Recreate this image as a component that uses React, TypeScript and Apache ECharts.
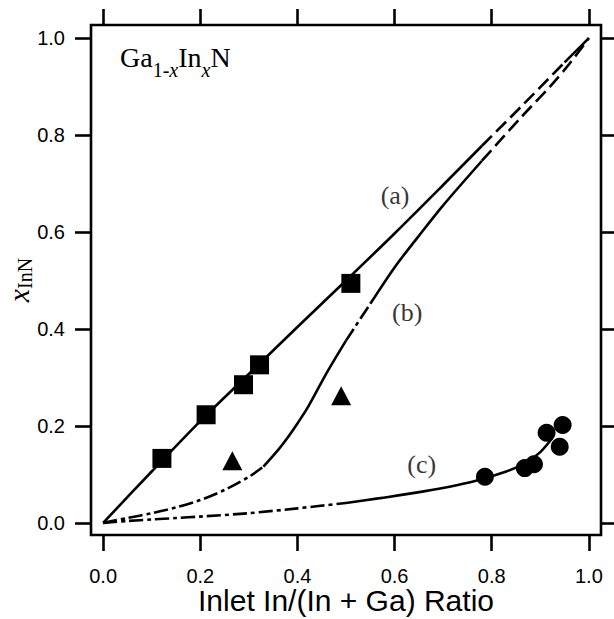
import React, { useEffect, useRef } from 'react';
import * as echarts from 'echarts';

// ---- data ----
const xTicks = [0, 0.2, 0.4, 0.6, 0.8, 1.0];
const yTicks = [0, 0.2, 0.4, 0.6, 0.8, 1.0];

const squaresA = [[0.121, 0.133], [0.212, 0.223], [0.289, 0.285], [0.322, 0.326], [0.51, 0.494]];
const trianglesB = [[0.266, 0.128], [0.49, 0.262]];
const circlesC = [[0.786, 0.095], [0.868, 0.113], [0.887, 0.121], [0.913, 0.186], [0.946, 0.202], [0.94, 0.157]];

const curveA = [[0, 0], [0.1, 0.106], [0.2, 0.21], [0.3, 0.307], [0.4, 0.404], [0.5, 0.5], [0.6, 0.597], [0.7, 0.697], [0.78, 0.778], [0.86, 0.858], [0.95, 0.95], [1, 1]];
const curveB = [[0, 0], [0.05, 0.01], [0.1, 0.02], [0.15, 0.032], [0.2, 0.047], [0.25, 0.068], [0.3, 0.095], [0.33, 0.116], [0.36, 0.15], [0.38, 0.176], [0.4, 0.205], [0.42, 0.236], [0.46, 0.309], [0.5, 0.376], [0.55, 0.452], [0.6, 0.527], [0.65, 0.592], [0.7, 0.655], [0.78, 0.747], [0.86, 0.836], [0.92, 0.9], [0.96, 0.947], [1, 1]];
const curveC = [[0, 0], [0.05, 0.004], [0.1, 0.007], [0.15, 0.01], [0.2, 0.013], [0.3, 0.02], [0.4, 0.03], [0.5, 0.041], [0.57, 0.051], [0.66, 0.065], [0.76, 0.085], [0.83, 0.106], [0.87, 0.124], [0.9, 0.146], [0.925, 0.175]];

// segment breakpoints (x values that exist in the curves)
const breaksA = [0, 0.78, 0.95, 1];
const breaksB = [0, 0.33, 0.5, 0.55, 0.78, 1];
const breaksC = [0, 0.5, 0.925];

const curveLabels: [string, number, number][] = [['(a)', 0.601, 0.676], ['(b)', 0.626, 0.433], ['(c)', 0.656, 0.12]];

// ---- styles ----
const DASH = [14, 6];
const DASHDOT = [14, 4, 4, 4];
const stylesA: any[] = ['solid', DASH, 'solid'];
const stylesB: any[] = [DASHDOT, 'solid', DASHDOT, 'solid', DASH];
const stylesC: any[] = [DASHDOT, 'solid'];

const SANS = "'Liberation Sans', Arial, Helvetica, sans-serif";
const SERIF = "'Liberation Serif', 'Times New Roman', serif";

function segments(points: number[][], breaks: number[], styles: any[], name: string) {
  const out: any[] = [];
  for (let i = 0; i < breaks.length - 1; i++) {
    const a = breaks[i];
    const b = breaks[i + 1];
    out.push({
      name: name + i,
      type: 'line',
      data: points.filter((p) => p[0] >= a - 1e-9 && p[0] <= b + 1e-9),
      showSymbol: false,
      smooth: 0.3,
      lineStyle: { color: '#000', width: 2.6, type: styles[i], cap: 'butt', opacity: 1 },
      z: 2,
    });
  }
  return out;
}

export default function App() {
  const ref = useRef<HTMLDivElement>(null);
  useEffect(() => {
    if (!ref.current) return;
    const chart = echarts.init(ref.current, null, { renderer: 'svg' });
    const tickFmt = (v: number) => v.toFixed(1);
    const tickStyle = { color: '#000', width: 2.6 };
    const axisCommon = {
      type: 'value',
      splitLine: { show: false },
      axisLine: { show: false, onZero: false },
    };
    const option: any = {
      animation: false,
      backgroundColor: '#fff',
      grid: {
        left: 91,
        top: 25,
        width: 510,
        height: 510,
        show: true,
        borderColor: '#000',
        borderWidth: 2.6,
        containLabel: false,
        outerBoundsMode: 'none',
      },
      xAxis: [
        {
          ...axisCommon,
          position: 'bottom',
          min: -0.025,
          max: 1.025,
          axisTick: { show: true, customValues: xTicks, length: 16, inside: false, lineStyle: tickStyle },
          axisLabel: { show: true, customValues: xTicks, formatter: tickFmt, margin: 31, fontSize: 20, fontFamily: SANS, color: '#000' },
          name: 'Inlet In/(In + Ga) Ratio',
          nameLocation: 'middle',
          nameGap: 65,
          nameMoveOverlap: false,
          nameTextStyle: { fontSize: 30, lineHeight: 30, verticalAlign: 'middle', fontFamily: SANS, color: '#000' },
        },
        {
          ...axisCommon,
          position: 'top',
          min: -0.025,
          max: 1.025,
          axisTick: { show: true, customValues: xTicks, length: 16, inside: false, lineStyle: tickStyle },
          axisLabel: { show: false },
        },
      ],
      yAxis: [
        {
          ...axisCommon,
          position: 'left',
          min: -0.025,
          max: 1.027,
          axisTick: { show: true, customValues: yTicks, length: 16, inside: false, lineStyle: tickStyle },
          axisLabel: { show: true, customValues: yTicks, formatter: tickFmt, margin: 26, fontSize: 20, fontFamily: SANS, color: '#000' },
          name: '{i|x}{s|InN}',
          nameLocation: 'middle',
          nameRotate: 90,
          nameGap: 72,
          nameMoveOverlap: false,
          nameTextStyle: {
            color: '#000',
            verticalAlign: 'middle',
            rich: {
              i: { fontFamily: SERIF, fontStyle: 'italic', fontSize: 30, lineHeight: 31, verticalAlign: 'top', color: '#000' },
              s: { fontFamily: SERIF, fontSize: 20, verticalAlign: 'bottom', color: '#000' },
            },
          },
        },
        {
          ...axisCommon,
          position: 'right',
          min: -0.025,
          max: 1.027,
          axisTick: { show: true, customValues: yTicks, length: 16, inside: false, lineStyle: tickStyle },
          axisLabel: { show: false },
        },
      ],
      graphic: [
        {
          type: 'text',
          x: 120,
          y: 43,
          style: {
            text: '{m|Ga}{s|1-}{si|x}{m|In}{si|x}{m|N}',
            verticalAlign: 'top',
            fill: '#000',
            rich: {
              m: { fontFamily: SERIF, fontSize: 28, lineHeight: 37, verticalAlign: 'top', fill: '#000' },
              s: { fontFamily: SERIF, fontSize: 20, verticalAlign: 'bottom', fill: '#000' },
              si: { fontFamily: SERIF, fontSize: 20, fontStyle: 'italic', verticalAlign: 'bottom', fill: '#000' },
            },
          },
        },
      ],
      series: [
        ...segments(curveA, breaksA, stylesA, 'a'),
        ...segments(curveB, breaksB, stylesB, 'b'),
        ...segments(curveC, breaksC, stylesC, 'c'),
        { name: 'sqA', type: 'scatter', data: squaresA, symbol: 'rect', symbolSize: 19, itemStyle: { color: '#000', opacity: 1 }, z: 3 },
        { name: 'triB', type: 'scatter', data: trianglesB, symbol: 'triangle', symbolSize: [20, 19], itemStyle: { color: '#000', opacity: 1 }, z: 3 },
        { name: 'cirC', type: 'scatter', data: circlesC, symbol: 'circle', symbolSize: 18, itemStyle: { color: '#000', opacity: 1 }, z: 3 },
        {
          name: 'labels',
          type: 'scatter',
          data: curveLabels.map((l) => ({ name: l[0], value: [l[1], l[2]] })),
          symbolSize: 1,
          itemStyle: { color: 'rgba(0,0,0,0)' },
          label: { show: true, position: 'inside', formatter: '{b}', fontFamily: SERIF, fontSize: 26, color: '#000' },
          z: 4,
        },
      ],
    };
    chart.setOption(option);
    return () => chart.dispose();
  }, []);
  return <div ref={ref} style={{ position: 'absolute', left: 0, top: 0, width: 614, height: 619 }} />;
}
